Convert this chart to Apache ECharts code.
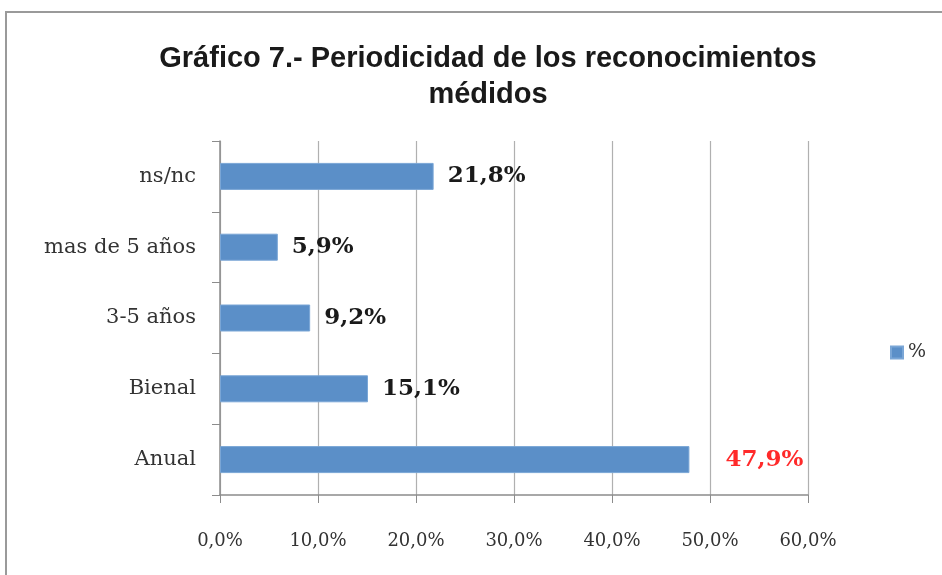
<!DOCTYPE html>
<html>
<head>
<meta charset="utf-8">
<script src="https://cdn.jsdelivr.net/npm/echarts@6/dist/echarts.min.js"></script>
<style>
  html, body { margin: 0; padding: 0; background: #fff; }
  #chart { width: 942px; height: 575px; }
</style>
</head>
<body>
<div id="chart"></div>
<script>
// datos del gráfico
var categorias = ["Anual", "Bienal", "3-5 años", "mas de 5 años", "ns/nc"];
var valores = [47.9, 15.1, 9.2, 5.9, 21.8];
var destacado = "Anual"; // etiqueta en rojo
var ticksX = [0, 10, 20, 30, 40, 50, 60];

var chart = echarts.init(document.getElementById("chart"));

function fmt(v) {
    return v.toFixed(1).replace(".", ",") + "%";
}

var datos = valores.map(function (v, i) {
    var item = { value: v };
    if (categorias[i] === destacado) {
        item.label = { color: "#ff2a2a", distance: 36 };
    }
    return item;
});

chart.setOption({
    animation: false,
    backgroundColor: "#fff",
    title: {
        text: "Gráfico 7.- Periodicidad de los reconocimientos\nmédidos",
        left: 483,
        top: 36,
        textAlign: "center",
        textStyle: {
            fontFamily: "Liberation Sans",
            fontWeight: "bold",
            fontSize: 29,
            lineHeight: 36,
            color: "#1a1a1a"
        }
    },
    legend: {
        data: ["%"],
        left: 885,
        top: 338,
        icon: "rect",
        itemWidth: 12,
        itemHeight: 12,
        itemGap: 6,
        textStyle: { fontFamily: "DejaVu Serif", fontSize: 19, color: "#333" }
    },
    graphic: [{
        type: "rect",
        shape: { x: 6, y: 12, width: 960, height: 600 },
        style: { fill: "none", stroke: "#9a9a9a", lineWidth: 2 },
        silent: true
    }],
    grid: { left: 220, right: 134, top: 141, bottom: 80 },
    xAxis: {
        type: "value",
        min: ticksX[0],
        max: ticksX[ticksX.length - 1],
        interval: 10,
        axisLine: { show: true, lineStyle: { color: "#8c8c8c", width: 1.5 } },
        axisTick: { show: true, length: 8, lineStyle: { color: "#8c8c8c" } },
        splitLine: { show: true, lineStyle: { color: "#b0b0b0", width: 1.2 } },
        axisLabel: {
            margin: 37,
            fontFamily: "DejaVu Serif",
            fontSize: 18,
            color: "#333",
            formatter: function (v) { return fmt(v); }
        }
    },
    yAxis: {
        type: "category",
        data: categorias,
        axisLine: { show: true, lineStyle: { color: "#8c8c8c", width: 1.5 } },
        axisTick: { show: true, length: 8, lineStyle: { color: "#8c8c8c" } },
        axisLabel: {
            margin: 24,
            fontFamily: "DejaVu Serif",
            fontSize: 21,
            color: "#333"
        }
    },
    series: [{
        name: "%",
        type: "bar",
        data: datos,
        barWidth: 27,
        itemStyle: { color: "#5b8fc8", borderColor: "#7aa6d6", borderWidth: 1 },
        label: {
            show: true,
            position: "right",
            distance: 14,
            fontFamily: "DejaVu Serif",
            fontWeight: "bold",
            fontSize: 23,
            color: "#1a1a1a",
            formatter: function (p) { return fmt(p.value); }
        }
    }]
});
</script>
</body>
</html>
